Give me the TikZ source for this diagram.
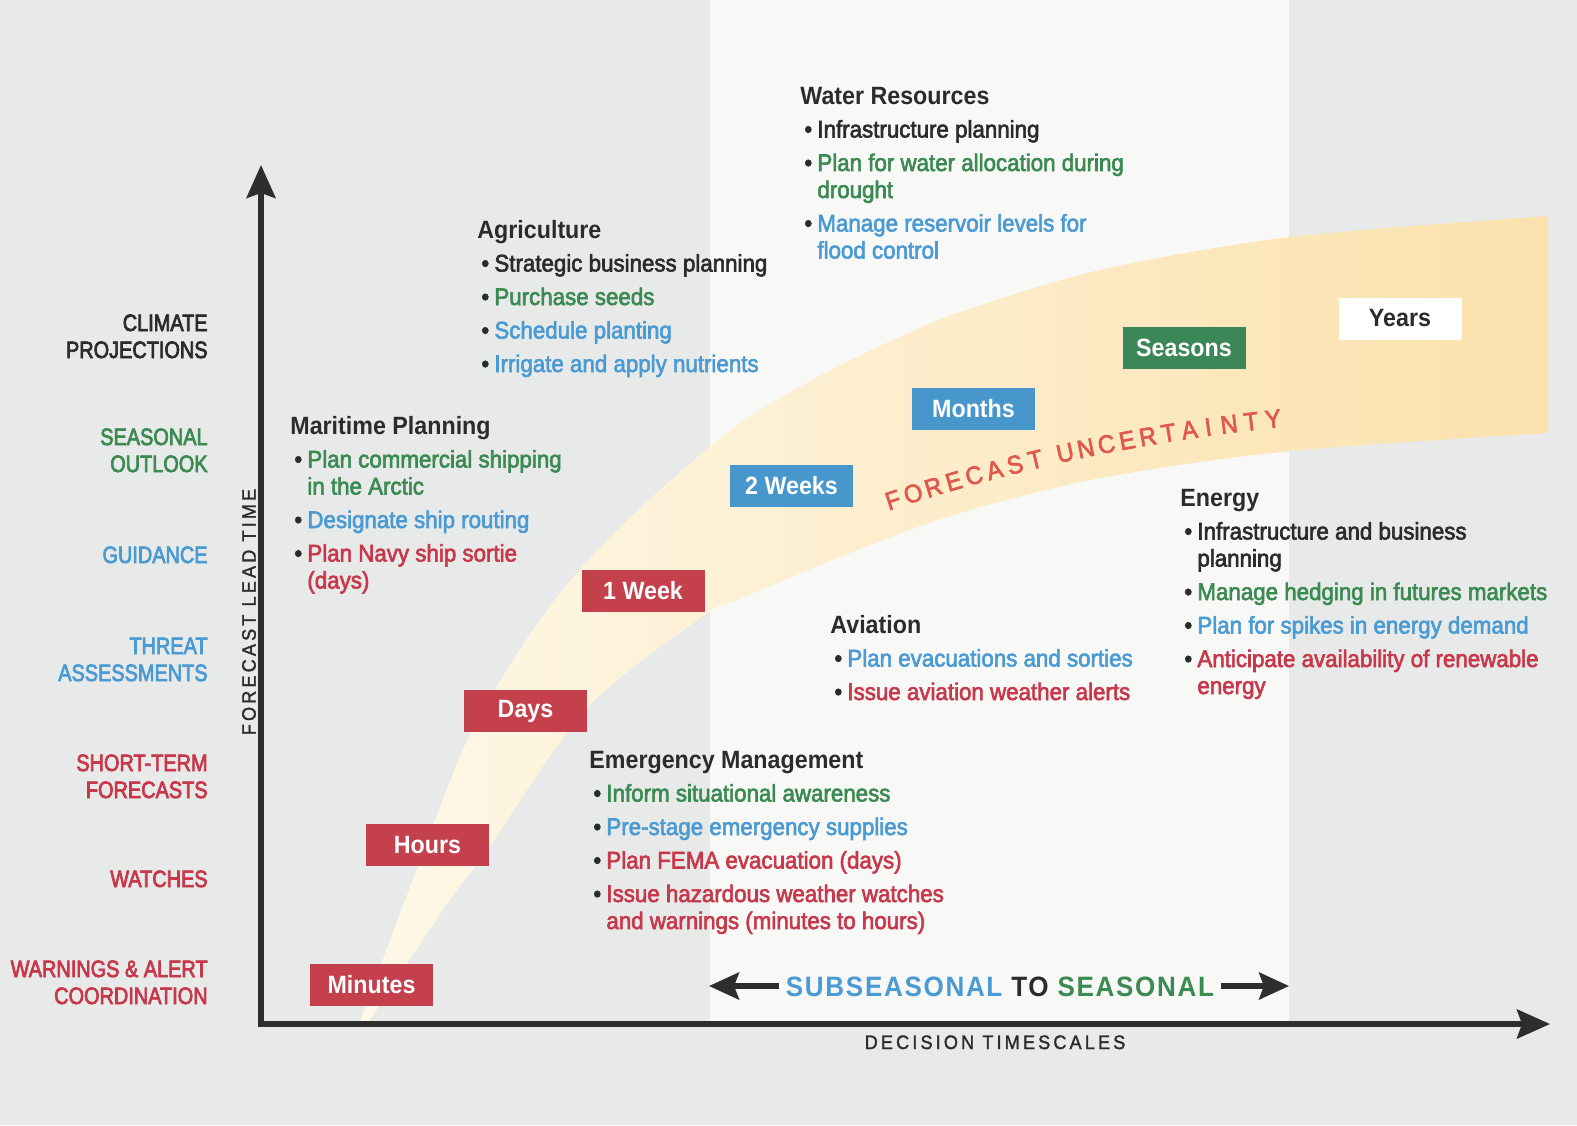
\documentclass[tikz,border=0pt]{standalone}
\usepackage{fontspec}
\setmainfont{Liberation Sans}[FakeStretch=0.93]
\newfontfamily\medfont{Liberation Sans}[FakeStretch=0.93,FakeBold=2.5]
\newfontfamily\labfont{Liberation Sans}[FakeStretch=0.84,FakeBold=3]
\newfontfamily\axfont{Liberation Sans}[FakeStretch=0.93,LetterSpace=16,FakeBold=1.5]
\newfontfamily\ssfont{Liberation Sans}[FakeStretch=0.93,LetterSpace=6]
\usetikzlibrary{arrows.meta}
\definecolor{bgc}{HTML}{E8E9E9}
\definecolor{stripc}{HTML}{F8F8F7}
\definecolor{bandL}{HTML}{FEF8E8}
\definecolor{bandR}{HTML}{FBE1AC}
\definecolor{cdk}{HTML}{2B2B2B}
\definecolor{cgr}{HTML}{3A8A52}
\definecolor{cbl}{HTML}{4A9AD4}
\definecolor{crd}{HTML}{C8384A}
\definecolor{boxrd}{HTML}{C4404C}
\definecolor{boxbl}{HTML}{4796CC}
\definecolor{boxgr}{HTML}{3C8757}
\definecolor{fcred}{HTML}{E0574B}
\definecolor{axc}{HTML}{2E2E2E}
\newcommand\bitem[2]{\hspace*{2pt}\makebox[6.5pt][l]{\color{cdk}\textbullet}\textcolor{#1}{#2}}
\newcommand\bcont[2]{\hspace*{8.5pt}\textcolor{#1}{#2}}
\newcommand\hdl[1]{{\rmfamily\bfseries\fontsize{12.5}{13.5}\selectfont\color{cdk}#1}}
\newcommand\twolines[2]{\begin{tabular}[t]{@{}r@{}}#1\\#2\end{tabular}}
\begin{document}
\begin{tikzpicture}[x=0.5pt,y=-0.5pt,
  lab/.style={anchor=base east, inner sep=0, font=\labfont\fontsize{11.85}{13.5}\selectfont},
  blk/.style={anchor=base west, inner sep=0, font=\medfont\fontsize{12}{13.5}\selectfont},
  tbox/.style={minimum width=61.5pt, minimum height=21pt, inner sep=0, text=white, font=\bfseries\fontsize{12.5}{14}\selectfont},
  axisline/.style={draw=axc, line width=2.6pt},
  bigtip/.style={arrows={Stealth[length=16.5pt,width=14.5pt,inset=2.5pt]-Stealth[length=16.5pt,width=14.5pt,inset=2.5pt]}},
  smalltip/.style={arrows={-Stealth[length=15pt,width=13.5pt,inset=2.5pt]}},
  fu/.style={sloped, inner sep=0, text=fcred, font=\medfont\fontsize{12.75}{14}\selectfont}]
\useasboundingbox (0,0) rectangle (1577,1125);
\fill[bgc] (0,0) rectangle (1577,1125);
\fill[stripc] (710,0) rectangle (1289,1024);
% forecast band
\shade[left color=bandL, right color=bandR]
  plot[smooth] coordinates {(359,1024) (405,900) (465,745) (515,657) (560,593) (610,537) (660,490) (712,445) (760,410) (827,372) (893,340) (960,312) (1100,270) (1290,237) (1548,216)}
  -- plot[smooth] coordinates {(1548,433) (1290,451) (1100,478) (960,513) (860,549) (737,600) (706,614) (587,708) (488,849) (447,904) (367,1024)}
  -- cycle;
% axes
\coordinate (orig) at (261,1024);
\coordinate (ytip) at (261,165);
\coordinate (xtip) at (1550,1024);
\draw[axisline, bigtip] (ytip) -- (orig) -- (xtip);
\node[rotate=90, inner sep=0, text=cdk, font=\axfont\fontsize{9.75}{11}\selectfont] (ylab) at (249,612) {FORECAST LEAD TIME};
\node[anchor=base, inner sep=0, text=cdk, font=\axfont\fontsize{9.75}{11}\selectfont] (xlab) at (995,1049) {DECISION TIMESCALES};
% subseasonal to seasonal
\node[anchor=base, inner sep=3.5pt, font=\ssfont\bfseries\fontsize{14}{16}\selectfont] (s2s) at (1000,996) {\textcolor{cbl}{SUBSEASONAL} \textcolor{cdk}{TO} \textcolor{cgr}{SEASONAL}};
\coordinate (sl) at (709,986);
\coordinate (sr) at (1289,986);
\draw[axisline, smalltip] (s2s.west |- sl) -- (sl);
\draw[axisline, smalltip] (s2s.east |- sr) -- (sr);
% left labels
\node[lab, text=cdk] (l1) at (208,331) {\twolines{CLIMATE}{PROJECTIONS}};
\node[lab, text=cgr] (l2) at (208,445) {\twolines{SEASONAL}{OUTLOOK}};
\node[lab, text=cbl] (l3) at (208,563) {GUIDANCE};
\node[lab, text=cbl] (l4) at (208,654) {\twolines{THREAT}{ASSESSMENTS}};
\node[lab, text=crd] (l5) at (208,771) {\twolines{SHORT-TERM}{FORECASTS}};
\node[lab, text=crd] (l6) at (208,887) {WATCHES};
\node[lab, text=crd] (l7) at (208,977) {\twolines{WARNINGS \& ALERT}{COORDINATION}};
% timescale boxes
\node[tbox, fill=boxrd] (bmin) at (371.5,985) {Minutes};
\node[tbox, fill=boxrd] (bhrs) at (427.5,845) {Hours};
\node[tbox, fill=boxrd] (bdays) at (525.5,711) {Days};
\node[tbox, fill=boxrd] (bwk) at (643,591) {1 Week};
\node[tbox, fill=boxbl] (b2wk) at (791.5,485.5) {2 Weeks};
\node[tbox, fill=boxbl] (bmon) at (973.5,408.5) {Months};
\node[tbox, fill=boxgr] (bsea) at (1184,347.5) {Seasons};
\node[tbox, fill=white, text=cdk] (byrs) at (1400,318.5) {Years};
% forecast uncertainty, letters spaced evenly along a gentle arc
\coordinate (fuA) at (893,500);
\coordinate (fuB) at (1017,459);
\coordinate (fuC) at (1144,433);
\coordinate (fuD) at (1273,419);
\path (fuA) .. controls (fuB) and (fuC) .. (fuD)
  node[fu, pos=0.0000] (u0) {F}
  node[fu, pos=0.0542] (u1) {O}
  node[fu, pos=0.1084] (u2) {R}
  node[fu, pos=0.1626] (u3) {E}
  node[fu, pos=0.2168] (u4) {C}
  node[fu, pos=0.2710] (u5) {A}
  node[fu, pos=0.3252] (u6) {S}
  node[fu, pos=0.3794] (u7) {T}
  node[fu, pos=0.4580] (u9) {U}
  node[fu, pos=0.5122] (u10) {N}
  node[fu, pos=0.5664] (u11) {C}
  node[fu, pos=0.6206] (u12) {E}
  node[fu, pos=0.6748] (u13) {R}
  node[fu, pos=0.7290] (u14) {T}
  node[fu, pos=0.7832] (u15) {A}
  node[fu, pos=0.8320] (u16) {I}
  node[fu, pos=0.8862] (u17) {N}
  node[fu, pos=0.9431] (u18) {T}
  node[fu, pos=1.0000] (u19) {Y};
% text blocks
\node[blk] (water) at (800,104) {\begin{tabular}[t]{@{}l@{}}
\hdl{Water Resources}\\[3.25pt]
\bitem{cdk}{Infrastructure planning}\\[3.25pt]
\bitem{cgr}{Plan for water allocation during}\\
\bcont{cgr}{drought}\\[3.25pt]
\bitem{cbl}{Manage reservoir levels for}\\
\bcont{cbl}{flood control}
\end{tabular}};
\node[blk] (agri) at (477,238) {\begin{tabular}[t]{@{}l@{}}
\hdl{Agriculture}\\[3.25pt]
\bitem{cdk}{Strategic business planning}\\[3.25pt]
\bitem{cgr}{Purchase seeds}\\[3.25pt]
\bitem{cbl}{Schedule planting}\\[3.25pt]
\bitem{cbl}{Irrigate and apply nutrients}
\end{tabular}};
\node[blk] (mari) at (290,434) {\begin{tabular}[t]{@{}l@{}}
\hdl{Maritime Planning}\\[3.25pt]
\bitem{cgr}{Plan commercial shipping}\\
\bcont{cgr}{in the Arctic}\\[3.25pt]
\bitem{cbl}{Designate ship routing}\\[3.25pt]
\bitem{crd}{Plan Navy ship sortie}\\
\bcont{crd}{(days)}
\end{tabular}};
\node[blk] (energy) at (1180,506) {\begin{tabular}[t]{@{}l@{}}
\hdl{Energy}\\[3.25pt]
\bitem{cdk}{Infrastructure and business}\\
\bcont{cdk}{planning}\\[3.25pt]
\bitem{cgr}{Manage hedging in futures markets}\\[3.25pt]
\bitem{cbl}{Plan for spikes in energy demand}\\[3.25pt]
\bitem{crd}{Anticipate availability of renewable}\\
\bcont{crd}{energy}
\end{tabular}};
\node[blk] (avia) at (830,633) {\begin{tabular}[t]{@{}l@{}}
\hdl{Aviation}\\[3.25pt]
\bitem{cbl}{Plan evacuations and sorties}\\[3.25pt]
\bitem{crd}{Issue aviation weather alerts}
\end{tabular}};
\node[blk] (emer) at (589,768) {\begin{tabular}[t]{@{}l@{}}
\hdl{Emergency Management}\\[3.25pt]
\bitem{cgr}{Inform situational awareness}\\[3.25pt]
\bitem{cbl}{Pre-stage emergency supplies}\\[3.25pt]
\bitem{crd}{Plan FEMA evacuation (days)}\\[3.25pt]
\bitem{crd}{Issue hazardous weather watches}\\
\bcont{crd}{and warnings (minutes to hours)}
\end{tabular}};
\end{tikzpicture}
\end{document}
